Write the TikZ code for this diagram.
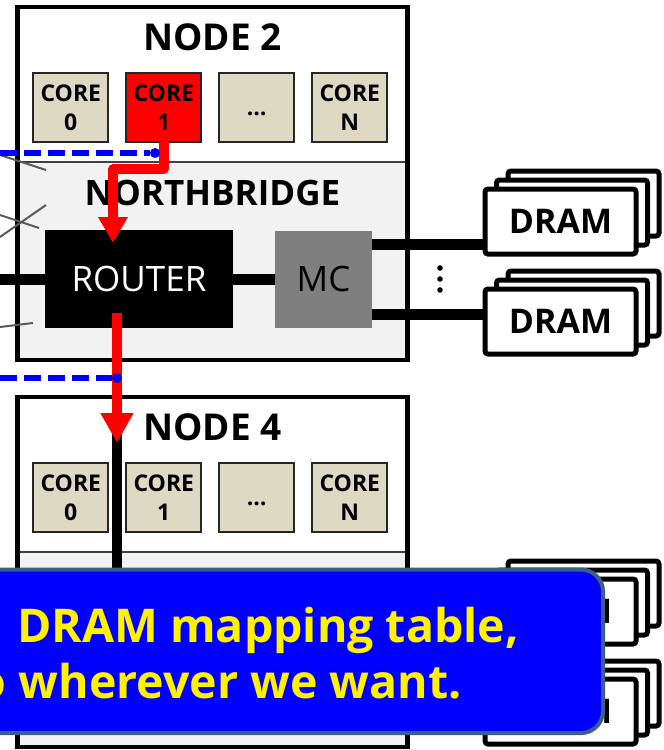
\documentclass[tikz,border=0pt]{standalone}
\usepackage{fontspec}
\setmainfont{Open Sans}
\usetikzlibrary{arrows.meta, positioning}

\definecolor{coretan}{HTML}{DDD9C3}
\definecolor{nbgray}{HTML}{F2F2F2}
\definecolor{mcgray}{HTML}{7F7F7F}
\definecolor{pureblue}{HTML}{0000FF}
\definecolor{calloutedge}{HTML}{3A5F8B}

\begin{document}
\begin{tikzpicture}[
  x=1pt, y=-1pt,
  nodebox/.style={rectangle, fill=white, minimum width=390pt, outer sep=0pt, inner sep=0pt},
  boxline/.style={line width=4.5pt},
  divider/.style={line width=1.8pt, draw=black!75},
  core/.style={rectangle, draw=black!85, line width=2pt, fill=coretan, minimum width=75pt, minimum height=69pt,
    outer sep=0pt, inner sep=0pt, align=center, font=\bfseries\fontsize{23}{29}\selectfont},
  title/.style={font=\bfseries\fontsize{37}{40}\selectfont},
  nblabel/.style={font=\bfseries\fontsize{35}{40}\selectfont},
  router/.style={rectangle, fill=black, text=white, minimum width=188pt, minimum height=98pt, outer sep=0pt,
    font=\fontsize{35}{40}\selectfont},
  mc/.style={rectangle, fill=mcgray, text=black, minimum width=97pt, minimum height=97pt, outer sep=0pt,
    font=\fontsize{35}{40}\selectfont},
  dram/.style={rectangle, draw, fill=white, line width=5pt, rounded corners=3pt, minimum width=151pt,
    minimum height=65pt, outer sep=0pt, font=\bfseries\fontsize{34}{36}\selectfont},
  bus/.style={line width=11pt},
  wire/.style={line width=2pt, draw=black!65},
  redpath/.style={line width=9.5pt, red, line join=round, -{Triangle[width=28pt, length=26pt]}},
  bluedash/.style={line width=6pt, pureblue, dash pattern=on 17pt off 7pt},
  dot/.style={circle, fill=pureblue, minimum size=10pt, inner sep=0pt},
  callout/.style={rectangle, rounded corners=22pt, fill=pureblue, draw=calloutedge, line width=4pt,
    minimum width=633pt, minimum height=163.5pt},
  callouttext/.style={inner sep=0pt, text=yellow, font=\bfseries\fontsize{46.5}{50}\selectfont}
]
\useasboundingbox (0,0) rectangle (664,750);
\clip (0,0) rectangle (664,750);

% node 2
\node[nodebox, minimum height=353pt] (node2) at (212.5,183.5) {};
\fill[nbgray] (17.5,162) rectangle (407.5,360);
\draw[divider] (17.5,162) -- (407.5,162);
\draw[boxline] (node2.north west) rectangle (node2.south east);
\node[title] (title2) at (212.5,37) {NODE 2};
\node[core] (n2core0) at (70.8,107.5) {CORE\\0};
\node[core, fill=red, right=18pt of n2core0] (n2core1) {CORE\\1};
\node[core, right=18pt of n2core1] (n2dots) {\vphantom{C}…};
\node[core, right=18pt of n2dots] (n2coreN) {CORE\\N};
\node[nblabel] (nb2) at (212.5,193) {NORTHBRIDGE};

\draw[wire] (0,155) -- (46,170);
\draw[wire] (0,237) -- (46,205);
\draw[wire] (0,215) -- (39,228);
\draw[wire] (0,327) -- (33,323);

\node[router] (router) at (139,279) {ROUTER};
\node[mc, right=42pt of router] (mc) {MC};

% dram stacks of node 2
\node[dram] (dram2a3) at (583.5,203.5) {};
\node[dram] (dram2a2) at (572,212.5) {};
\node[dram] (dram2a) at (560.5,221.5) {DRAM};
\node[dram] (dram2b3) at (583.5,303.5) {};
\node[dram] (dram2b2) at (572,312.5) {};
\node[dram] (dram2b) at (560.5,321.5) {DRAM};
\foreach \y in {268,279,290}
  \fill (440,\y) circle (2.8pt);

\coordinate (w2) at (0,279);
\draw[bus] (router.west) -- (w2);
\draw[bus] (router.east) -- (mc.west);
\draw[bus] ([yshift=34.5pt]mc.east) -- ([yshift=34.5pt]mc.east -| dram2a.west);
\draw[bus] ([yshift=-35pt]mc.east) -- ([yshift=-35pt]mc.east -| dram2b.west);

% node 4
\node[nodebox, minimum height=350pt] (node4) at (212.5,572) {};
\fill[nbgray] (17.5,552) rectangle (407.5,747);
\draw[divider] (17.5,552) -- (407.5,552);
\draw[boxline] (node4.north west) rectangle (node4.south east);
\node[title] (title4) at (212.5,427) {NODE 4};
\node[core] (n4core0) at (70.8,497.5) {CORE\\0};
\node[core, right=18pt of n4core0] (n4core1) {CORE\\1};
\node[core, right=18pt of n4core1] (n4dots) {\vphantom{C}…};
\node[core, right=18pt of n4dots] (n4coreN) {CORE\\N};

\node[dram] (dram4a3) at (583.5,593.5) {};
\node[dram] (dram4a2) at (572,602.5) {};
\node[dram] (dram4a) at (560.5,611.5) {DRAM};
\node[dram] (dram4b3) at (583.5,693.5) {};
\node[dram] (dram4b2) at (572,702.5) {};
\node[dram] (dram4b) at (560.5,711.5) {DRAM};

\coordinate (n4top) at (117,413);
\coordinate (n4in) at (117,443);
\coordinate (n4bottom) at (117,580);
\draw[bus, line width=10pt] (n4top) -- (n4bottom);

% request path
\draw[redpath] (n2core1.south) -- ++(0,27) -| ([xshift=-26pt,yshift=-13pt]router.north);
\draw[redpath, -{Triangle[width=31pt, length=30pt]}] ([xshift=-22pt,yshift=15pt]router.south) -- (n4in);

\coordinate (b2) at (0,153);
\node[dot] (dot2) at (155,153) {};
\draw[bluedash] (b2) -- (dot2);
\coordinate (b4) at (0,378);
\node[dot] (dot4) at (117,378) {};
\draw[bluedash] (b4) -- (dot4);

% callout
\node[callout] (callout) at (286.5,651.3) {};
\node[callouttext, anchor=base west] (line1) at (17,642) {DRAM mapping table,};
\node[callouttext, anchor=base east] (line2) at (462,698) {o wherever we want.};
\end{tikzpicture}
\end{document}
